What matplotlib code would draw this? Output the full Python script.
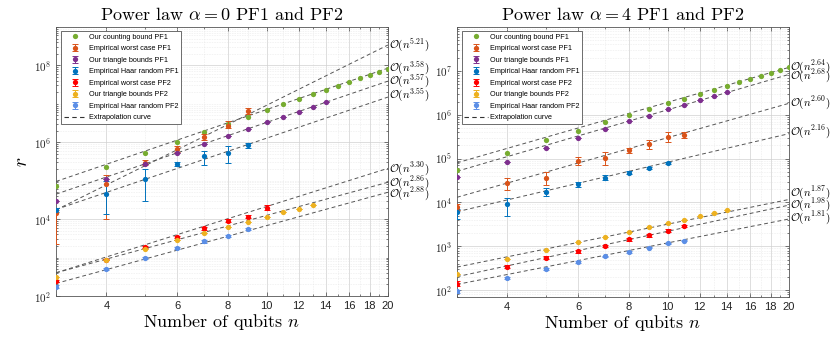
import numpy as np
import matplotlib
matplotlib.use("Agg")
import matplotlib.pyplot as plt
from matplotlib.ticker import FixedLocator, FuncFormatter, NullFormatter

plt.rcParams['mathtext.fontset'] = 'cm'
plt.rcParams['font.family'] = ['Liberation Sans', 'DejaVu Sans']

# ---------------- data ----------------
n_counting = list(range(3, 21))
n_tri1 = list(range(3, 15))

# alpha = 0
L_counting = [7.4e4, 2.32e5, 5.36e5, 1.04e6, 1.82e6, 2.93e6, 4.63e6, 6.79e6, 9.72e6,
              1.31e7, 1.77e7, 2.29e7, 2.97e7, 3.77e7, 4.61e7, 5.62e7, 6.87e7, 8.22e7]
L_tri1 = [3.0e4, 1.10e5, 2.69e5, 5.13e5, 8.91e5, 1.45e6, 2.24e6, 3.31e6, 4.47e6, 6.17e6, 8.51e6, 1.12e7]
L_n_worst1 = list(range(3, 10))
L_worst1 = [1.48e4, 8.1e4, 2.95e5, 6.76e5, 1.38e6, 2.63e6, 6.61e6]
L_worst1_lo = [2.3e3, 1.0e4, 2.5e5, 5.6e5, 1.15e6, 2.3e6, 5.5e6]
L_worst1_hi = [1.78e4, 1.41e5, 3.4e5, 7.9e5, 1.66e6, 3.55e6, 7.9e6]
L_n_haar1 = list(range(3, 10))
L_haar1 = [1.74e4, 4.47e4, 1.10e5, 2.69e5, 4.27e5, 5.13e5, 8.3e5]
L_haar1_lo = [1.5e4, 1.4e4, 3.0e4, 2.4e5, 2.6e5, 2.95e5, 7.2e5]
L_haar1_hi = [2.0e4, 1.0e5, 2.0e5, 3.0e5, 5.9e5, 7.8e5, 9.5e5]
L_n_worst2 = list(range(3, 11))
L_worst2 = [245, 890, 1860, 3470, 5750, 9120, 1.15e4, 2.0e4]
L_worst2_lo = [225, 850, 1750, 3250, 5300, 8400, 1.07e4, 1.75e4]
L_worst2_hi = [265, 930, 1980, 3700, 6250, 1.0e4, 1.25e4, 2.3e4]
L_n_tri2 = list(range(3, 14))
L_tri2 = [316, 890, 1660, 2880, 4470, 6310, 8510, 1.15e4, 1.51e4, 1.86e4, 2.34e4]
L_n_haar2 = list(range(3, 10))
L_haar2 = [174, 500, 955, 1740, 2630, 3630, 5500]
L_haar2_lo = [160, 470, 900, 1650, 2450, 3450, 5200]
L_haar2_hi = [190, 530, 1010, 1840, 2850, 3850, 5800]
L_fit_exp = [5.21, 3.58, 3.57, 3.55, 3.30, 2.86, 2.88]
L_fit_end = [3.4e8, 8.5e7, 3.9e7, 1.5e7, 2.1e5, 9.1e4, 5.0e4]
L_lab_y = [3.4e8, 8.5e7, 3.9e7, 1.7e7, 2.1e5, 9.1e4, 4.5e4]

# alpha = 4
R_counting = [5.5e4, 1.35e5, 2.63e5, 4.27e5, 6.76e5, 9.77e5, 1.38e6, 1.82e6, 2.34e6,
              3.02e6, 3.72e6, 4.57e6, 5.5e6, 6.46e6, 7.76e6, 9.12e6, 1.05e7, 1.20e7]
R_tri1 = [3.8e4, 8.5e4, 1.74e5, 3.0e5, 4.8e5, 7.2e5, 9.5e5, 1.32e6, 1.70e6, 2.14e6, 2.69e6, 3.31e6]
R_n_worst1 = list(range(3, 12))
R_worst1 = [7.9e3, 2.75e4, 3.7e4, 8.7e4, 1.02e5, 1.58e5, 2.19e5, 3.16e5, 3.47e5]
R_worst1_lo = [6.8e3, 1.9e4, 2.45e4, 7.1e4, 7.1e4, 1.32e5, 1.66e5, 2.4e5, 2.9e5]
R_worst1_hi = [9.3e3, 3.7e4, 5.0e4, 1.07e5, 1.38e5, 1.78e5, 2.63e5, 4.0e5, 4.0e5]
R_n_haar1 = list(range(3, 11))
R_haar1 = [6.2e3, 9.3e3, 1.74e4, 2.57e4, 3.7e4, 4.8e4, 6.0e4, 7.9e4]
R_haar1_lo = [4.2e3, 4.9e3, 1.41e4, 2.2e4, 3.3e4, 4.5e4, 5.75e4, 7.6e4]
R_haar1_hi = [7.1e3, 1.29e4, 2.14e4, 3.0e4, 4.2e4, 5.1e4, 6.3e4, 8.3e4]
R_n_worst2 = list(range(3, 12))
R_worst2 = [141, 347, 550, 776, 1020, 1450, 1780, 2290, 2880]
R_worst2_lo = [125, 320, 510, 720, 950, 1350, 1650, 2150, 2700]
R_worst2_hi = [158, 375, 590, 840, 1100, 1560, 1920, 2450, 3080]
R_n_tri2 = list(range(3, 15))
R_tri2 = [229, 513, 832, 1260, 1660, 2140, 2750, 3390, 4070, 4790, 5620, 6610]
R_n_haar2 = list(range(3, 12))
R_haar2 = [95, 191, 302, 437, 589, 741, 933, 1170, 1350]
R_haar2_lo = [88, 180, 288, 420, 565, 715, 900, 1130, 1300]
R_haar2_hi = [102, 202, 316, 455, 613, 768, 966, 1210, 1400]
R_fit_exp = [2.64, 2.68, 2.60, 2.16, 1.87, 1.98, 1.81]
R_fit_end = [1.2e7, 8.3e6, 1.82e6, 3.7e5, 1.17e4, 8.7e3, 4.2e3]
R_lab_y = [1.23e7, 8.0e6, 1.9e6, 4.1e5, 1.65e4, 8.9e3, 4.6e3]

labels = ["Our counting bound PF1", "Empirical worst case PF1", "Our triangle bounds PF1",
          "Empirical Haar random PF1", "Empirical worst case PF2", "Our triangle bounds PF2",
          "Empirical Haar random PF2", "Extrapolation curve"]
colors = ['#77AC30', '#D95319', '#7E2F8E', '#0072BD', '#FF0000', '#EDB120', '#5B8EE6']

fig = plt.figure(figsize=(8.31, 3.38), dpi=100)
axL = fig.add_axes([0.0674, 0.1243, 0.3995, 0.7959])
axR = fig.add_axes([0.5499, 0.1213, 0.3995, 0.7988])


def errs(v, lo, hi):
    v = np.array(v, float)
    return [v - np.array(lo, float), np.array(hi, float) - v]


def draw(ax, D, title, ylim, yticks):
    ax.set_xscale('log')
    ax.set_yscale('log')
    nn = np.array([3, 20], float)
    for p, end in zip(D['exp'], D['end']):
        ax.plot(nn, end * (nn / 20.0) ** p, ls=(0, (4, 3)), color='#555555', lw=0.7, zorder=2)
    for p, ly in zip(D['exp'], D['lab']):
        ax.annotate(r'$\mathcal{O}(n^{%.2f})$' % p, xy=(20, ly), xycoords='data',
                    xytext=(1, 0), textcoords='offset points', ha='left', va='center',
                    fontsize=8, annotation_clip=False, family='cmr10')
    ms = 3.8
    h = []
    h.append(ax.plot(n_counting, D['count'], 'o', color=colors[0], ms=ms, mec='none', zorder=4)[0])
    ekw = dict(fmt='o', ms=ms, mec='none', elinewidth=0.7, capsize=2, capthick=0.7, zorder=4)
    h.append(ax.errorbar(D['nw1'], D['w1'], yerr=errs(D['w1'], D['w1lo'], D['w1hi']), color=colors[1], **ekw))
    h.append(ax.errorbar(n_tri1, D['t1'], yerr=[np.zeros(len(n_tri1))] * 2, color=colors[2], **ekw))
    h.append(ax.errorbar(D['nh1'], D['h1'], yerr=errs(D['h1'], D['h1lo'], D['h1hi']), color=colors[3], **ekw))
    h.append(ax.errorbar(D['nw2'], D['w2'], yerr=errs(D['w2'], D['w2lo'], D['w2hi']), color=colors[4], **ekw))
    h.append(ax.errorbar(D['nt2'], D['t2'], yerr=[np.zeros(len(D['nt2']))] * 2, color=colors[5], **ekw))
    h.append(ax.errorbar(D['nh2'], D['h2'], yerr=errs(D['h2'], D['h2lo'], D['h2hi']), color=colors[6], **ekw))
    h.append(plt.Line2D([], [], ls=(0, (4, 3)), color='#333333', lw=0.8))
    leg = ax.legend(h, labels, loc='upper left', bbox_to_anchor=(0.015, 0.985), fontsize=5.2,
                    frameon=True, fancybox=False, framealpha=1, edgecolor='#555555',
                    handlelength=3.2, handletextpad=0.3, labelspacing=0.62, borderpad=0.35,
                    borderaxespad=0.0)
    leg.get_frame().set_linewidth(0.6)

    ax.set_xlim(3, 20)
    ax.set_ylim(*ylim)
    ax.xaxis.set_major_locator(FixedLocator([4, 6, 8, 10, 12, 14, 16, 18, 20]))
    ax.xaxis.set_minor_locator(FixedLocator([3, 5, 7, 9, 11, 13, 15, 17, 19]))
    ax.xaxis.set_major_formatter(FuncFormatter(lambda v, p: '%d' % round(v)))
    ax.xaxis.set_minor_formatter(NullFormatter())
    ax.yaxis.set_major_locator(FixedLocator([10.0 ** k for k in yticks]))
    minors = []
    for k in range(1, 10):
        for m in range(1, 10):
            val = m * 10.0 ** k
            if not (m == 1 and k in yticks):
                minors.append(val)
    ax.yaxis.set_minor_locator(FixedLocator(minors))
    ax.yaxis.set_major_formatter(FuncFormatter(lambda v, p: r'$\mathsf{10^{%d}}$' % round(np.log10(v))))
    ax.yaxis.set_minor_formatter(NullFormatter())
    ax.grid(True, which='major', color='#d0d0d0', lw=0.5)
    ax.grid(True, which='minor', color='#e2e2e2', lw=0.45, ls=':')
    ax.set_axisbelow(True)
    ax.tick_params(which='both', direction='in', top=True, right=True, colors='#444444',
                   labelcolor='#222222', width=0.5)
    ax.tick_params(which='major', length=3, labelsize=8)
    ax.tick_params(which='minor', length=1.5)
    for s in ax.spines.values():
        s.set_color('#555555')
        s.set_linewidth(0.6)
    ax.set_title(title, family='cmr10', fontsize=13, pad=5)
    ax.set_xlabel(r'Number of qubits $n$', family='cmr10', fontsize=13, labelpad=1)


DL = dict(count=L_counting, t1=L_tri1, nw1=L_n_worst1, w1=L_worst1, w1lo=L_worst1_lo, w1hi=L_worst1_hi,
          nh1=L_n_haar1, h1=L_haar1, h1lo=L_haar1_lo, h1hi=L_haar1_hi,
          nw2=L_n_worst2, w2=L_worst2, w2lo=L_worst2_lo, w2hi=L_worst2_hi,
          nt2=L_n_tri2, t2=L_tri2, nh2=L_n_haar2, h2=L_haar2, h2lo=L_haar2_lo, h2hi=L_haar2_hi,
          exp=L_fit_exp, end=L_fit_end, lab=L_lab_y)
DR = dict(count=R_counting, t1=R_tri1, nw1=R_n_worst1, w1=R_worst1, w1lo=R_worst1_lo, w1hi=R_worst1_hi,
          nh1=R_n_haar1, h1=R_haar1, h1lo=R_haar1_lo, h1hi=R_haar1_hi,
          nw2=R_n_worst2, w2=R_worst2, w2lo=R_worst2_lo, w2hi=R_worst2_hi,
          nt2=R_n_tri2, t2=R_tri2, nh2=R_n_haar2, h2=R_haar2, h2lo=R_haar2_lo, h2hi=R_haar2_hi,
          exp=R_fit_exp, end=R_fit_end, lab=R_lab_y)

draw(axL, DL, r'Power law $\alpha = 0$ PF1 and PF2', (1e2, 1e9), [2, 4, 6, 8])
draw(axR, DR, r'Power law $\alpha = 4$ PF1 and PF2', (70, 1e8), [2, 3, 4, 5, 6, 7])
axL.set_ylabel(r'$r$', fontsize=14, labelpad=2)

fig.savefig('out.png', dpi=100)
